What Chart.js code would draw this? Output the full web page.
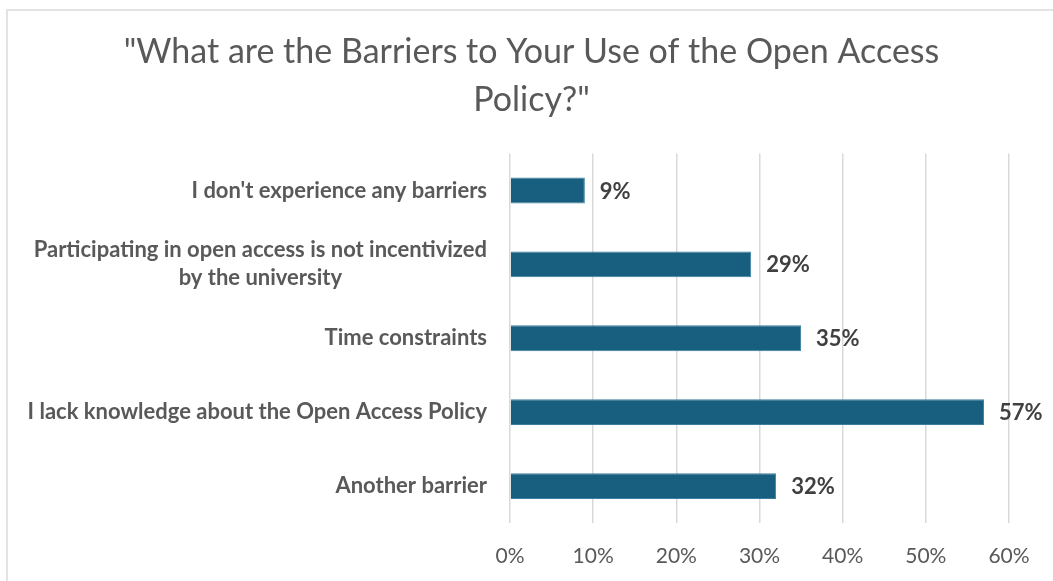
<!DOCTYPE html>
<html>
<head>
<meta charset="utf-8">
<script src="https://cdn.jsdelivr.net/npm/chart.js@4.4.1/dist/chart.umd.min.js"></script>
<style>
    html, body { margin: 0; padding: 0; background: #fff; overflow: hidden; }
    #wrap { position: relative; width: 1053px; height: 581px; }
    #frame { position: absolute; left: 6px; top: 9px; width: 1200px; height: 700px; border: 2px solid #e3e3e3; }
    canvas { position: absolute; left: 0; top: 0; }
</style>
</head>
<body>
<div id="wrap">
    <div id="frame"></div>
    <canvas id="barriersChart" width="1053" height="581"></canvas>
</div>
<script>
// Survey answers, top to bottom as shown
const categories = [
    "I don't experience any barriers",
    ["Participating in open access is not incentivized", "by the university"],
    "Time constraints",
    "I lack knowledge about the Open Access Policy",
    "Another barrier"
];
const shares = [9, 29, 35, 57, 32];
const tickValues = [0, 10, 20, 30, 40, 50, 60];

const greyText = '#595959';
const labelFont = 'Lato, "Open Sans", sans-serif';

// Category names drawn left of the plot, second line centred under the first
const categoryLabels = {
    id: 'categoryLabels',
    afterDraw(chart) {
        const ctx = chart.ctx;
        const yScale = chart.scales.y;
        const right = chart.chartArea.left - 23;
        ctx.save();
        ctx.font = 'bold 22px ' + labelFont;
        ctx.fillStyle = greyText;
        ctx.textBaseline = 'middle';
        ctx.textAlign = 'center';
        categories.forEach((label, i) => {
            const lines = Array.isArray(label) ? label : [label];
            const widest = Math.max(...lines.map(l => ctx.measureText(l).width));
            const cx = right - widest / 2;
            const y0 = yScale.getPixelForValue(i) - (lines.length - 1) * 14;
            lines.forEach((line, j) => ctx.fillText(line, cx, y0 + j * 28));
        });
        ctx.restore();
    }
};

// Percent value printed just past the end of each bar
const valueLabels = {
    id: 'valueLabels',
    afterDatasetsDraw(chart) {
        const ctx = chart.ctx;
        const meta = chart.getDatasetMeta(0);
        ctx.save();
        ctx.font = 'bold 22px ' + labelFont;
        ctx.fillStyle = '#404040';
        ctx.textAlign = 'left';
        ctx.textBaseline = 'middle';
        meta.data.forEach((bar, i) => {
            ctx.fillText(shares[i] + '%', bar.x + 15, bar.y + 1);
        });
        ctx.restore();
    }
};

const ctx = document.getElementById('barriersChart').getContext('2d');
new Chart(ctx, {
    type: 'bar',
    data: {
        labels: categories,
        datasets: [{
            data: shares,
            backgroundColor: '#185e7f',
            borderColor: '#3a7fa0',
            borderWidth: 1,
            categoryPercentage: 1,
            barPercentage: 0.35
        }]
    },
    options: {
        indexAxis: 'y',
        responsive: false,
        animation: false,
        layout: {
            padding: { top: 0, left: 10, right: 0, bottom: 0 }
        },
        plugins: {
            legend: { display: false },
            tooltip: { enabled: false },
            title: {
                display: true,
                text: ['"What are the Barriers to Your Use of the Open Access', 'Policy?"'],
                color: greyText,
                font: { family: labelFont, size: 34, weight: 'normal', lineHeight: 1.42 },
                padding: { top: 28, bottom: 29 }
            }
        },
        scales: {
            x: {
                min: 0,
                max: 60,
                afterBuildTicks: scale => {
                    scale.ticks = tickValues.map(v => ({ value: v }));
                },
                afterFit: scale => {
                    scale.paddingRight = 44;
                    scale.height = 58;
                },
                grid: { color: '#d9d9d9', lineWidth: 1.5, drawTicks: false },
                border: { display: false },
                ticks: {
                    padding: 21,
                    color: greyText,
                    font: { family: labelFont, size: 21 },
                    callback: v => v + '%'
                }
            },
            y: {
                grid: { display: false },
                border: { display: false },
                ticks: { display: false },
                afterFit: scale => {
                    scale.width = 500;
                }
            }
        }
    },
    plugins: [categoryLabels, valueLabels]
});
</script>
</body>
</html>
